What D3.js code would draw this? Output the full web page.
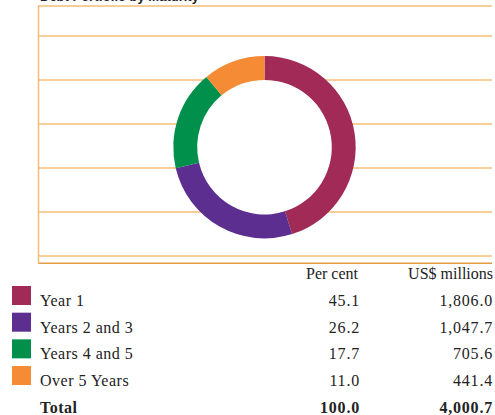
<!DOCTYPE html>
<html>
<head>
<meta charset="utf-8">
<script src="https://cdn.jsdelivr.net/npm/d3@7"></script>
<style>
  html, body { margin: 0; padding: 0; background: #fff; }
  svg { display: block; }
</style>
</head>
<body>
<svg id="chart" width="495" height="415"></svg>
<script>
const title = "Debt Portfolio by Maturity";
const categories = ["Year 1", "Years 2 and 3", "Years 4 and 5", "Over 5 Years"];
const perCent = [45.1, 26.2, 17.7, 11.0];
const usdMillions = [1806.0, 1047.7, 705.6, 441.4];
const totalPerCent = 100.0;
const totalUsd = 4000.7;
const colors = ["#A22A57", "#5B2E90", "#00904C", "#F58C35"];
const gridTicks = [0, 1, 2, 3, 4, 5];
const headers = ["Per cent", "US$ millions"];

const svg = d3.select("#chart");

// title (mostly clipped at top)
svg.append("text")
  .attr("x", 40).attr("y", 1)
  .attr("font-family", "Liberation Sans, Arial, sans-serif")
  .attr("font-weight", "bold").attr("font-size", 13)
  .attr("fill", "#222")
  .text(title);

// frame / grid
const x = d3.scaleLinear().domain([0, 1]).range([38.5, 492]);
const y = d3.scaleLinear().domain([0, 5]).range([256, 36]);

const g = svg.append("g");
g.selectAll("line.grid").data(gridTicks).join("line")
  .attr("class", "grid")
  .attr("x1", x(0)).attr("x2", x(1))
  .attr("y1", d => y(d)).attr("y2", d => y(d))
  .attr("stroke", "#F5BC78").attr("stroke-width", 1.5);
// top frame
g.append("line").attr("x1", x(0)).attr("x2", x(1)).attr("y1", 6).attr("y2", 6)
  .attr("stroke", "#F5BC78").attr("stroke-width", 1.5);
// bottom axis
g.append("line").attr("x1", x(0)).attr("x2", x(1)).attr("y1", 263.3).attr("y2", 263.3)
  .attr("stroke", "#E39A42").attr("stroke-width", 1.5);
// left vertical
g.append("line").attr("x1", x(0)).attr("x2", x(0)).attr("y1", 5.3).attr("y2", 264)
  .attr("stroke", "#F5BC78").attr("stroke-width", 1.5);

// donut
const cx = 264.5, cy = 147.2, rOuter = 91.2, rInner = 67.3;
const pie = d3.pie().sort(null).value(d => d);
const arc = d3.arc().innerRadius(rInner).outerRadius(rOuter);
const donut = svg.append("g").attr("transform", `translate(${cx},${cy})`);
donut.append("circle").attr("r", rInner).attr("fill", "#fff");
donut.selectAll("path").data(pie(perCent)).join("path")
  .attr("d", arc)
  .attr("fill", (d, i) => colors[i]);

// table
const serif = "Liberation Serif, Times New Roman, serif";
const col1 = 358, col2 = 493;
svg.append("text").attr("x", col1).attr("y", 279).attr("text-anchor", "end")
  .attr("font-family", serif).attr("font-size", 16).attr("fill", "#222").text(headers[0]);
svg.append("text").attr("x", col2).attr("y", 279).attr("text-anchor", "end")
  .attr("font-family", serif).attr("font-size", 16).attr("fill", "#222").text(headers[1]);

const rowY = d3.scaleLinear().domain([0, 4]).range([306, 412.7]);
const fmtPct = d3.format(".1f");
const fmtUsd = d3.format(",.1f");

const rows = svg.append("g").selectAll("g").data(categories).join("g");
rows.append("rect")
  .attr("x", 12).attr("y", (d, i) => rowY(i) - 20)
  .attr("width", 19).attr("height", 19)
  .attr("fill", (d, i) => colors[i]);
rows.append("text")
  .attr("x", 40).attr("y", (d, i) => rowY(i))
  .attr("font-family", serif).attr("font-size", 16).attr("letter-spacing", 0.5)
  .attr("fill", "#222").text(d => d);
rows.append("text")
  .attr("x", col1 + 2).attr("y", (d, i) => rowY(i)).attr("text-anchor", "end")
  .attr("font-family", serif).attr("font-size", 16).attr("letter-spacing", 0.8)
  .attr("fill", "#222").text((d, i) => fmtPct(perCent[i]));
rows.append("text")
  .attr("x", col2).attr("y", (d, i) => rowY(i)).attr("text-anchor", "end")
  .attr("font-family", serif).attr("font-size", 16).attr("letter-spacing", 0.8)
  .attr("fill", "#222").text((d, i) => fmtUsd(usdMillions[i]));

// total row
svg.append("text").attr("x", 40).attr("y", rowY(4))
  .attr("font-family", serif).attr("font-size", 16).attr("font-weight", "bold")
  .attr("letter-spacing", 0.5).attr("fill", "#222").text("Total");
svg.append("text").attr("x", col1 + 2).attr("y", rowY(4)).attr("text-anchor", "end")
  .attr("font-family", serif).attr("font-size", 16).attr("font-weight", "bold")
  .attr("letter-spacing", 0.8).attr("fill", "#222").text(fmtPct(totalPerCent));
svg.append("text").attr("x", col2).attr("y", rowY(4)).attr("text-anchor", "end")
  .attr("font-family", serif).attr("font-size", 16).attr("font-weight", "bold")
  .attr("letter-spacing", 0.8).attr("fill", "#222").text(fmtUsd(totalUsd));
</script>
</body>
</html>
